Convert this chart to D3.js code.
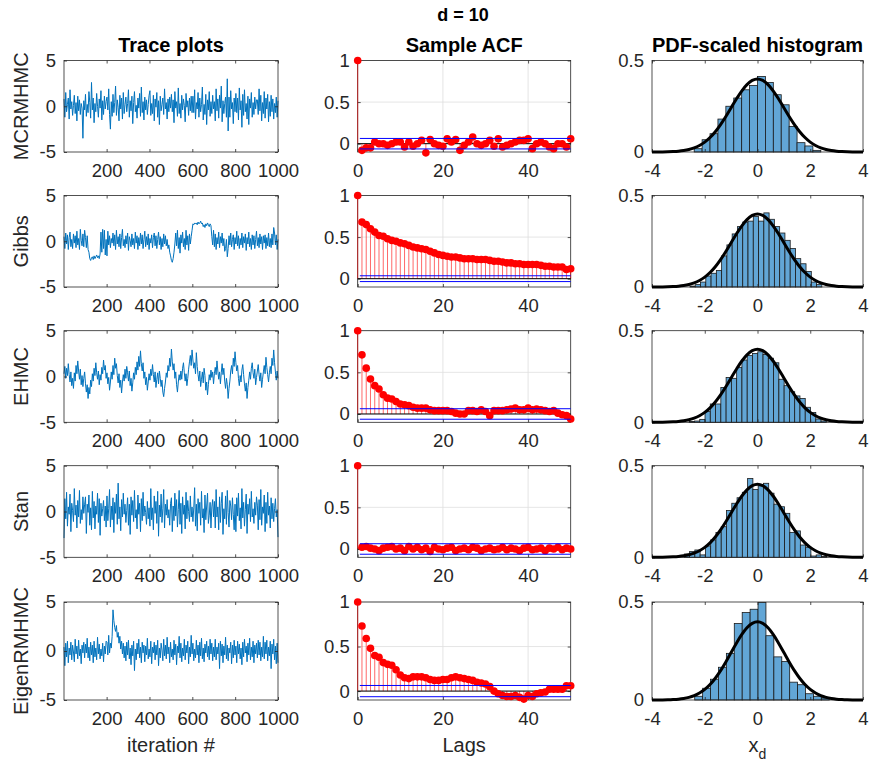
<!DOCTYPE html>
<html><head><meta charset="utf-8">
<script src="https://cdn.jsdelivr.net/npm/d3@7"></script>
<style>
body{margin:0;background:#fff}
text{font-family:"Liberation Sans",Arial,Helvetica,sans-serif}
</style>
</head><body>
<svg id="c" width="871" height="766"></svg>
<script>
// ---------------- DATA ----------------
const methods = ["MCRMHMC","Gibbs","EHMC","Stan","EigenRMHMC"];
const columnTitles = ["Trace plots","Sample ACF","PDF-scaled histogram"];
const figureTitle = "d = 10";

const traceTicksX = [200,400,600,800,1000];
const traceTicksY = [-5,0,5];
const acfTicksX = [0,20,40];
const acfTicksY = [0,0.5,1];
const histTicksX = [-4,-2,0,2,4];
const histTicksY = [0,0.5];

// trace samples (every 4th iteration)
const trace_MCRMHMC = [
0.8,-1.2,1.5,-0.6,0.2,0.9,-1.4,1.8,-0.3,0.5,-1.0,0.1,1.2,-0.8,0.4,-1.6,1.1,-0.5,0.7,-0.9,0.3,-0.2,-3.5,0.6,-0.4,
1.3,-1.1,0.2,-0.7,1.6,0.4,-1.3,2.6,-0.4,0.9,-1.8,0.3,-0.6,1.4,0.0,-1.2,0.8,-0.2,1.7,-1.5,0.6,-0.9,1.1,-0.3,0.5,
1.0,-0.4,1.9,-0.9,-2.5,0.5,-1.1,1.3,-0.7,0.4,2.2,-1.0,0.7,-0.1,-1.6,1.2,-0.3,0.9,-1.4,1.5,-0.8,0.2,1.0,-0.6,0.3,
1.8,-1.2,0.6,-0.5,1.1,-1.9,0.4,1.6,-0.6,0.1,-1.3,0.9,-0.2,1.4,-1.1,2.1,-0.7,0.5,-1.5,1.0,-0.4,0.7,-0.9,0.2,1.2,
1.7,-1.0,0.3,-0.8,1.2,-1.6,0.8,-0.1,1.5,-1.2,0.6,-2.0,1.1,-0.5,0.2,0.9,-0.9,1.9,-0.3,0.4,-1.4,0.8,-0.6,1.0,-0.2,
1.3,-0.6,0.7,-1.8,1.6,-0.2,0.5,-1.1,2.0,-0.8,0.3,-1.3,1.2,-0.4,0.8,0.1,-1.7,1.4,-0.1,0.6,-1.0,0.9,-0.5,1.1,-0.7,
1.1,-0.7,1.8,-1.4,0.4,-0.3,1.5,-1.2,0.9,-0.6,0.2,2.1,-1.5,0.2,-0.9,1.3,-2.0,0.7,-0.4,1.6,-1.1,0.5,-0.8,1.2,-0.3,
0.5,-1.6,1.9,-0.5,0.8,-1.3,1.2,-0.2,2.2,-1.7,0.6,-0.8,0.3,1.0,-1.2,3.0,-2.7,1.0,-1.2,1.7,-0.3,0.4,-1.9,0.9,-0.6,
1.4,-0.7,0.9,-1.5,2.0,-0.4,0.6,-2.3,1.3,-1.0,1.8,-0.6,0.3,-1.4,1.1,-2.0,0.8,-0.2,1.5,-1.2,0.4,-0.9,1.0,-0.3,0.7,
0.7,-0.9,1.9,-0.5,1.2,-1.6,0.4,-0.8,1.6,-1.3,0.9,-0.3,1.3,-1.7,0.5,-1.1,1.2,-0.6,0.8,-1.4,0.3,-0.7,1.0,-1.2,0.6];

const trace_Gibbs = [
0.5,-0.8,0.9,-0.3,0.7,-0.9,0.4,1.0,-0.6,0.2,-0.8,0.8,-0.2,0.6,-0.7,1.1,-0.4,0.3,-0.9,1.3,0.1,-0.5,0.8,-0.6,1.2,
0.4,-0.7,0.6,-0.9,-1.2,-1.9,-2.1,-1.8,-1.7,-2.0,-1.6,-1.9,-1.7,-1.5,-1.8,-1.6,-1.9,-1.4,1.0,-1.2,1.3,-0.8,1.2,-1.5,0.2,
-1.6,1.1,-0.4,0.6,-0.7,0.3,-0.2,0.9,-0.5,0.7,-0.9,1.2,-0.3,0.5,-0.6,0.8,-0.8,0.4,1.3,-0.5,0.2,-0.7,0.6,-0.3,0.9,
-1.0,0.5,0.1,-0.6,0.8,-0.4,0.3,-0.8,1.0,-0.2,0.6,-0.9,0.4,-0.5,0.9,-0.3,0.7,-0.8,0.2,1.1,-0.6,0.5,-0.4,0.8,-0.9,
0.3,-0.2,0.7,-0.7,0.4,0.9,-0.5,0.6,-0.8,0.2,1.0,-0.4,0.5,-0.9,0.3,-0.6,0.8,-0.3,0.6,-0.5,0.2,-0.8,-0.4,-1.2,-1.6,
-2.1,-2.3,-1.9,-1.2,-0.3,0.9,-0.5,1.2,-0.8,0.4,-1.3,0.7,-0.2,1.0,-0.6,0.3,-0.9,1.2,-0.4,0.6,-1.0,0.8,-0.3,0.5,1.2,
1.9,1.8,2.0,1.9,2.0,1.8,2.1,1.9,2.0,2.2,1.9,2.0,1.6,1.8,1.5,1.9,1.7,2.0,1.8,1.6,1.9,1.7,0.5,-0.4,1.2,
-0.6,0.8,-0.9,0.4,-0.3,1.0,-0.7,0.5,-0.2,0.9,-0.5,0.3,-1.1,-0.8,0.2,-1.7,-0.8,0.6,-0.4,0.9,-0.6,0.2,0.7,-0.9,0.4,
-0.3,1.1,-0.5,0.6,-0.8,0.3,-0.4,0.9,-0.7,0.5,-0.2,0.8,-1.0,0.4,-0.3,1.0,-0.6,0.3,-0.9,0.7,-0.4,0.6,-0.8,0.2,1.1,
-0.5,0.4,-0.7,0.8,-0.3,0.5,-0.9,0.6,-0.2,0.7,-0.8,0.4,-0.5,0.9,-0.6,0.3,-0.7,0.8,-0.4,1.5,0.9,-0.4,0.7,-0.9,0.2];

const trace_EHMC = [
0.3,1.1,-0.2,0.9,0.1,1.4,0.2,-0.6,0.5,-1.0,-0.2,-1.3,0.4,-0.5,1.2,0.3,1.7,0.6,-0.3,0.8,-0.9,0.1,-1.1,-0.2,0.5,
-0.8,-1.7,-0.9,-2.4,-1.2,-1.9,-0.4,-1.1,0.3,-0.5,0.9,0.1,1.5,0.4,-0.3,0.6,-0.9,0.2,-0.4,1.0,0.3,1.8,0.7,1.2,-0.2,
0.4,-0.8,-0.1,-1.5,-0.6,0.5,-0.3,1.2,0.2,2.0,0.9,1.4,0.1,-0.7,0.3,-1.2,-0.4,-1.8,-0.6,0.2,-0.5,0.8,-0.2,1.1,0.4,
-0.5,0.6,-1.0,-0.2,-1.6,-0.7,0.4,-0.3,1.0,0.2,1.6,0.7,2.2,1.1,2.8,1.4,0.6,1.5,-0.2,0.5,-0.9,-0.1,-1.5,-0.6,0.3,
-0.4,0.8,0.1,1.3,0.2,-0.6,0.5,-1.2,-0.3,0.4,-0.8,0.6,-0.2,-1.1,-0.4,-1.7,-2.2,-1.3,-0.6,0.4,-0.1,1.2,0.6,2.0,1.1,
3.0,1.6,0.7,1.4,-0.2,0.5,-0.9,-1.7,-0.6,0.2,-0.4,0.6,-0.3,0.9,1.5,0.4,-0.5,0.3,-1.0,-0.2,0.8,1.6,2.3,1.2,2.9,
1.8,0.9,1.5,0.3,2.6,1.1,0.2,-0.5,0.6,-1.1,-0.3,0.5,-0.7,0.9,0.1,-1.5,-0.6,-2.0,-0.9,0.2,-0.4,0.7,-0.1,0.5,-0.8,
0.3,1.0,0.2,1.7,0.6,-0.3,0.5,-0.8,0.4,1.4,0.2,0.9,-0.5,-1.3,-0.2,-0.9,-2.4,-1.3,-0.5,0.6,1.2,0.3,2.0,1.1,2.7,
1.5,0.6,1.2,-0.2,-1.0,0.1,-0.6,0.7,1.3,0.2,-0.8,-1.6,-0.7,-2.4,-1.2,-0.4,0.5,-0.3,0.9,1.5,0.4,-0.2,0.8,-0.9,-0.1,
0.6,1.3,0.2,-0.5,0.4,-1.2,-0.3,0.5,1.2,0.3,2.1,1.0,0.2,-0.6,0.4,1.1,0.3,2.0,1.2,2.9,1.5,0.5,-0.4,0.6,-0.2];

const trace_Stan = [
-2.9,1.4,-0.8,2.1,-1.6,0.5,-0.3,1.9,-2.2,0.9,0.1,-1.1,2.5,-0.4,0.7,-1.8,1.2,-0.6,2.3,-1.3,0.2,-0.9,1.6,-0.2,0.8,
1.6,-2.4,0.8,-0.1,1.8,-1.5,0.4,-2.0,2.2,-0.7,1.1,-1.9,0.6,-0.3,2.0,-1.2,1.4,-2.6,0.9,-0.5,0.3,1.2,-1.0,0.6,-1.7,
1.7,-1.0,0.3,2.4,-1.7,0.6,-0.9,1.5,-2.3,1.0,-0.2,1.9,-1.4,3.1,-0.8,0.5,-2.1,1.3,-0.6,2.0,-0.3,0.8,-1.2,0.1,1.5,
-1.5,0.8,-2.5,1.6,-0.4,1.2,-1.1,2.3,-0.7,0.2,-1.9,1.8,-0.3,0.9,-2.2,1.4,-1.0,2.1,-0.5,0.6,-0.1,-1.4,1.1,-0.8,0.4,
-1.6,2.5,-0.9,0.4,-2.0,1.7,-0.2,1.1,-1.3,2.2,-2.7,0.7,-0.6,1.9,-1.2,0.3,2.4,-1.8,0.8,-0.4,1.3,-0.7,0.2,-1.5,0.9,
1.5,-2.2,0.6,-1.0,2.0,-0.5,1.3,-1.7,0.2,2.3,-1.4,0.9,-2.4,1.6,-0.3,0.7,-1.9,2.1,-0.8,1.2,0.0,-1.1,1.7,-0.6,0.5,
-1.1,0.4,2.6,-1.6,0.8,-2.1,1.4,-0.2,1.0,-1.5,2.2,-0.7,0.3,-2.3,1.8,-0.9,0.6,2.0,-1.3,-0.4,1.0,-1.8,0.5,1.3,-0.6,
1.1,-1.8,2.4,-0.6,0.5,-2.0,1.6,-1.2,0.9,2.1,-2.5,0.3,-0.8,1.7,-1.4,2.3,-0.1,-1.7,1.2,0.6,-0.9,1.5,-0.3,-2.0,0.8,
-2.2,1.5,-0.5,2.0,-1.0,0.4,-1.9,2.5,-0.7,1.0,-1.6,0.2,1.9,-2.4,0.8,-0.3,1.4,-1.1,2.2,-0.6,0.3,-1.3,1.0,-0.4,1.6,
0.7,-2.0,1.3,-0.9,2.4,-1.5,0.5,-0.2,1.8,-2.2,1.0,-1.3,2.1,-0.4,0.6,-1.8,1.5,-0.8,0.9,-1.1,0.3,1.4,-0.6,0.2,-2.8];

const trace_EigenRMHMC = [
0.4,-1.5,0.8,-0.6,1.0,-1.2,0.3,-0.4,0.9,-0.9,0.6,-0.1,-1.1,1.2,-0.3,0.5,-0.8,1.1,-0.5,0.2,-1.3,0.6,-0.2,0.9,-0.7,
0.7,-0.2,1.3,-0.7,0.4,-1.0,0.9,-0.4,0.6,-1.2,1.0,-0.6,0.3,-0.9,1.4,-0.3,0.7,-0.8,0.2,-0.5,0.8,-1.1,0.5,-0.3,1.0,
0.9,-0.4,1.6,-0.2,0.8,0.3,1.5,4.2,3.1,2.4,2.0,2.6,1.4,1.9,0.8,1.5,0.2,1.0,-0.3,0.8,-0.7,0.5,-1.0,0.9,-0.4,
1.1,-0.8,0.3,-1.4,0.6,-0.5,1.0,-2.0,0.2,-0.9,0.8,-0.3,1.2,-0.7,0.4,-1.2,0.9,-0.2,0.6,-1.1,0.5,-0.4,1.3,-0.8,0.2,
-0.6,1.0,-1.3,0.4,-0.2,0.9,-0.9,0.6,-0.4,1.1,-1.5,0.3,-0.7,0.8,0.1,-1.0,1.2,-0.5,0.6,-0.8,1.4,-0.3,0.4,-1.2,0.9,
-0.6,0.2,-0.9,1.1,-0.4,0.7,-1.4,0.5,-0.2,1.5,-0.7,0.8,-1.1,0.3,-0.5,1.2,-0.9,0.6,-0.2,1.0,-1.3,0.4,-0.6,1.6,-0.3,
0.8,-1.0,0.2,-0.7,1.1,-0.4,0.6,-1.2,0.9,-0.5,1.3,-0.8,0.3,-1.1,0.7,-0.2,1.0,-0.6,0.5,-0.9,1.2,-0.3,0.8,-1.0,0.4,
-0.6,1.2,-0.9,0.4,-0.3,0.8,-1.8,1.0,-0.5,0.7,-1.2,0.5,-0.4,1.4,-0.8,0.6,-1.0,0.3,-0.2,0.9,-1.3,0.6,-0.7,1.1,-0.4,
0.5,-1.2,1.0,-0.3,0.7,-0.8,0.3,-1.4,0.9,-0.6,1.2,-0.2,0.5,-1.1,0.8,-0.4,1.3,-0.9,0.4,-0.6,1.0,-1.2,0.6,-0.3,0.8,
-0.7,1.1,-0.4,0.9,-1.0,0.4,-0.6,1.5,-0.8,0.9,-0.3,1.1,-1.0,0.4,-0.5,1.0,-1.8,0.7,-0.3,1.2,-0.9,0.5,-1.3,0.8,-1.2];

// sample autocorrelation, lags 0..50
const acf_MCRMHMC = [1,-0.08,-0.05,-0.05,0.02,0.0,0.0,-0.02,0.0,0.02,0.02,-0.04,0.02,-0.03,0.0,0.04,-0.11,0.05,0.0,-0.02,-0.03,
0.06,0.02,0.05,-0.08,-0.02,0.02,0.08,0.0,-0.02,0.0,0.04,-0.03,0.06,-0.04,-0.02,0.0,0.02,0.04,0.04,0.06,
-0.06,0.0,0.02,0.0,-0.04,-0.06,0.0,0.0,-0.04,0.06];
const acf_Gibbs = [1,0.68,0.65,0.6,0.56,0.52,0.51,0.48,0.46,0.45,0.43,0.42,0.40,0.38,0.37,0.36,0.35,0.33,0.31,0.29,0.28,
0.27,0.26,0.26,0.25,0.24,0.24,0.24,0.23,0.23,0.23,0.22,0.21,0.21,0.20,0.19,0.19,0.18,0.18,0.17,0.17,
0.17,0.17,0.16,0.15,0.15,0.14,0.14,0.14,0.11,0.12];
const acf_EHMC = [1,0.71,0.55,0.42,0.34,0.30,0.23,0.19,0.18,0.15,0.12,0.11,0.10,0.08,0.07,0.07,0.07,0.05,0.04,0.04,0.04,
0.04,0.03,0.01,0.0,0.0,0.04,0.04,0.03,0.05,0.03,-0.02,0.04,0.04,0.04,0.05,0.06,0.07,0.05,0.05,0.07,
0.05,0.06,0.05,0.04,0.03,0.04,0.01,-0.01,-0.02,-0.06];
const acf_Stan = [1,0.02,0.03,0.01,0.0,-0.02,0.01,0.02,0.03,0.0,0.01,-0.02,0.03,0.0,0.02,-0.01,0.01,-0.03,0.02,0.0,-0.01,
0.01,0.02,-0.02,0.0,0.01,-0.01,0.02,0.01,-0.02,0.0,0.01,-0.01,0.0,0.02,-0.01,0.01,0.0,-0.02,0.01,0.02,
-0.01,0.0,0.01,-0.02,0.01,0.0,0.02,-0.01,0.01,0.0];
const acf_EigenRMHMC = [1,0.73,0.59,0.48,0.40,0.38,0.32,0.30,0.29,0.24,0.18,0.15,0.14,0.16,0.16,0.16,0.15,0.13,0.12,0.12,0.13,
0.13,0.15,0.16,0.15,0.14,0.13,0.12,0.10,0.09,0.08,0.05,0.0,-0.03,-0.05,-0.06,-0.06,-0.05,-0.07,-0.09,-0.05,
-0.06,-0.03,-0.02,-0.01,0.02,0.02,0.02,0.02,0.06,0.06];
const acfBound = [0.063,0.035,0.063,0.063,0.063];

// PDF-scaled histograms: first bin edge, bin width, bar heights
const histStart = [-2.4,-2.56,-2.59,-2.775,-2.38];
const histWidth = [0.3,0.2,0.2,0.2,0.3];
const hist_MCRMHMC = [0.018,0.067,0.1,0.18,0.25,0.295,0.34,0.364,0.413,0.38,0.313,0.258,0.14,0.051,0.033,0.009];
const hist_Gibbs = [0.005,0.013,0.027,0.06,0.075,0.09,0.17,0.23,0.29,0.33,0.355,0.36,0.385,0.36,0.405,0.37,0.33,0.295,0.255,0.21,0.155,0.127,0.085,0.027,0.013];
const hist_EHMC = [0.004,0.007,0.016,0.06,0.1,0.1,0.19,0.245,0.24,0.3,0.34,0.364,0.376,0.385,0.37,0.35,0.325,0.235,0.2,0.167,0.144,0.13,0.082,0.053,0.018,0.007];
const hist_Stan = [0.018,0.031,0.04,0.013,0.062,0.095,0.135,0.167,0.255,0.295,0.325,0.355,0.43,0.37,0.39,0.404,0.35,0.29,0.276,0.24,0.136,0.144,0.067,0.055,0.007,0.013,0.004];
const hist_EigenRMHMC = [0.019,0.06,0.106,0.167,0.238,0.39,0.446,0.463,0.497,0.328,0.22,0.196,0.091,0.078,0.032,0.019,0.01];

// standard normal pdf curve
const pdfX = [-4,-3.8,-3.6,-3.4,-3.2,-3,-2.8,-2.6,-2.4,-2.2,-2,-1.8,-1.6,-1.4,-1.2,-1,-0.8,-0.6,-0.4,-0.2,0,
0.2,0.4,0.6,0.8,1,1.2,1.4,1.6,1.8,2,2.2,2.4,2.6,2.8,3,3.2,3.4,3.6,3.8,4];
const pdfY = [0.0001,0.0003,0.0006,0.0012,0.0024,0.0044,0.0079,0.0136,0.0224,0.0355,0.0540,0.0790,0.1109,0.1497,0.1942,0.2420,0.2897,0.3332,0.3683,0.3910,0.3989,
0.3910,0.3683,0.3332,0.2897,0.2420,0.1942,0.1497,0.1109,0.0790,0.0540,0.0355,0.0224,0.0136,0.0079,0.0044,0.0024,0.0012,0.0006,0.0003,0.0001];

const traces = [trace_MCRMHMC,trace_Gibbs,trace_EHMC,trace_Stan,trace_EigenRMHMC];
const acfs = [acf_MCRMHMC,acf_Gibbs,acf_EHMC,acf_Stan,acf_EigenRMHMC];
const hists = [hist_MCRMHMC,hist_Gibbs,hist_EHMC,hist_Stan,hist_EigenRMHMC];

// ---------------- LAYOUT ----------------
const colX = [[64,278],[357.7,570.7],[652,863]];
const rowY = [[60.5,152],[195.5,287],[330.7,422.3],[465.7,557.3],[602,700]];
const TICK_FS = 18.5, LABEL_FS = 20;
const AX = "#262626";
const fmt = d => String(d);

const svg = d3.select("#c");
svg.append("rect").attr("width",871).attr("height",766).attr("fill","#fff");

function frame(g, x, y, xt, yt){
  const [y1,y0] = y.range();
  const [x0,x1] = x.range();
  const style = s => s.attr("font-size",TICK_FS).attr("font-family",'"Liberation Sans",Arial,sans-serif').attr("color",AX)
     .call(a=>a.select(".domain").remove()).call(a=>a.selectAll("line").attr("stroke-width",0.8));
  g.append("g").attr("transform",`translate(0,${y1})`)
    .call(d3.axisBottom(x).tickValues(xt).tickSizeInner(-3).tickSizeOuter(0).tickPadding(11.5).tickFormat(fmt)).call(style);
  g.append("g").attr("transform",`translate(${x0},0)`)
    .call(d3.axisLeft(y).tickValues(yt).tickSizeInner(-3).tickSizeOuter(0).tickPadding(8).tickFormat(fmt)).call(style);
  g.append("g").attr("transform",`translate(0,${y0})`)
    .call(d3.axisTop(x).tickValues(xt).tickSizeInner(-3).tickSizeOuter(0).tickFormat(()=>"")).call(style);
  g.append("g").attr("transform",`translate(${x1},0)`)
    .call(d3.axisRight(y).tickValues(yt).tickSizeInner(-3).tickSizeOuter(0).tickFormat(()=>"")).call(style);
  g.append("rect").attr("x",x0).attr("y",y0).attr("width",x1-x0).attr("height",y1-y0)
    .attr("fill","none").attr("stroke",AX).attr("stroke-width",0.8);
}

for (let r=0;r<5;r++){
  const [top,bot] = rowY[r];

  // ---- trace ----
  {
    const g = svg.append("g");
    const x = d3.scaleLinear().domain([1,1000]).range(colX[0]);
    const y = d3.scaleLinear().domain([-5,5]).range([bot,top]);
    const data = traces[r];
    const step = 999/(data.length-1);
    g.append("path").datum(data)
      .attr("d", d3.line().x((d,i)=>x(1+i*step)).y(d=>y(d)))
      .attr("fill","none").attr("stroke","#0072BD").attr("stroke-width",1);
    frame(g,x,y,traceTicksX,traceTicksY);
  }

  // ---- ACF ----
  {
    const g = svg.append("g");
    const x = d3.scaleLinear().domain([0,50]).range(colX[1]);
    const y = d3.scaleLinear().domain([-0.1,1]).range([bot,top]);
    g.append("g").selectAll("line").data(acfTicksX).join("line")
      .attr("x1",d=>x(d)).attr("x2",d=>x(d)).attr("y1",top).attr("y2",bot)
      .attr("stroke","#dedede").attr("stroke-width",0.8);
    g.append("g").selectAll("line").data(acfTicksY).join("line")
      .attr("x1",colX[1][0]).attr("x2",colX[1][1]).attr("y1",d=>y(d)).attr("y2",d=>y(d))
      .attr("stroke","#dedede").attr("stroke-width",0.8);
    frame(g,x,y,acfTicksX,acfTicksY);
    const data = acfs[r];
    g.append("g").selectAll("line").data(data).join("line")
      .attr("x1",(d,i)=>x(i)).attr("x2",(d,i)=>x(i)).attr("y1",y(0)).attr("y2",d=>y(d))
      .attr("stroke","#ff0000").attr("stroke-width",0.8).attr("stroke-opacity",0.75);
    g.append("line").attr("x1",x(0)).attr("x2",x(50)).attr("y1",y(0)).attr("y2",y(0))
      .attr("stroke","#000").attr("stroke-width",1);
    g.append("g").selectAll("circle").data(data).join("circle")
      .attr("cx",(d,i)=>x(i)).attr("cy",d=>y(d)).attr("r",3.8).attr("fill","#ff0000");
    [acfBound[r],-acfBound[r]].forEach(b=>{
      g.append("line").attr("x1",x(0.5)).attr("x2",x(50)).attr("y1",y(b)).attr("y2",y(b))
        .attr("stroke","#0000ff").attr("stroke-width",1);
    });
  }

  // ---- histogram ----
  {
    const g = svg.append("g");
    const x = d3.scaleLinear().domain([-4,4]).range(colX[2]);
    const y = d3.scaleLinear().domain([0,0.5]).range([bot,top]);
    const w = histWidth[r], s = histStart[r];
    g.append("g").selectAll("rect").data(hists[r]).join("rect")
      .attr("x",(d,i)=>x(s+i*w)).attr("width",(d,i)=>x(s+(i+1)*w)-x(s+i*w))
      .attr("y",d=>y(d)).attr("height",d=>y(0)-y(d))
      .attr("fill","#62a6d6").attr("stroke","#1a1a1a").attr("stroke-width",0.8);
    frame(g,x,y,histTicksX,histTicksY);
    g.append("path").datum(pdfX.map((v,i)=>[v,pdfY[i]]))
      .attr("d", d3.line().x(d=>x(d[0])).y(d=>y(d[1])).curve(d3.curveCatmullRom))
      .attr("fill","none").attr("stroke","#000").attr("stroke-width",3);
  }

  // ---- row label ----
  svg.append("text").attr("transform",`translate(28,${(top+bot)/2}) rotate(-90)`)
    .attr("text-anchor","middle").attr("font-size",LABEL_FS).attr("fill",AX).text(methods[r]);
}

// column titles
columnTitles.forEach((t,i)=>{
  svg.append("text").attr("x",(colX[i][0]+colX[i][1])/2).attr("y",52)
    .attr("text-anchor","middle").attr("font-size",LABEL_FS).attr("font-weight","bold").attr("fill","#000").text(t);
});
svg.append("text").attr("x",463).attr("y",21).attr("text-anchor","middle")
  .attr("font-size",18).attr("font-weight","bold").attr("fill","#000").text(figureTitle);

// x labels
svg.append("text").attr("x",(colX[0][0]+colX[0][1])/2).attr("y",752).attr("text-anchor","middle")
  .attr("font-size",LABEL_FS).attr("fill",AX).text("iteration #");
svg.append("text").attr("x",(colX[1][0]+colX[1][1])/2).attr("y",752).attr("text-anchor","middle")
  .attr("font-size",LABEL_FS).attr("fill",AX).text("Lags");
const xd = svg.append("text").attr("x",(colX[2][0]+colX[2][1])/2).attr("y",752).attr("text-anchor","middle")
  .attr("font-size",LABEL_FS).attr("fill",AX);
xd.append("tspan").text("x");
xd.append("tspan").attr("dy",7).attr("font-size",14).text("d");
</script>
</body></html>
